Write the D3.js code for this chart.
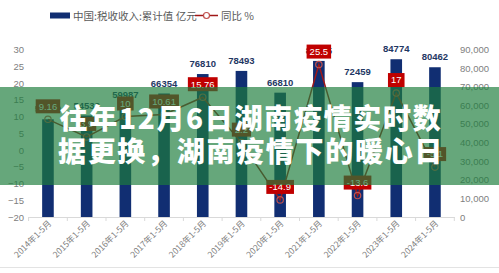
<!DOCTYPE html>
<html><head><meta charset="utf-8">
<script src="https://cdn.jsdelivr.net/npm/d3@7/dist/d3.min.js"></script>
<style>
html,body{margin:0;padding:0;background:#fff;}
svg{display:block;}
</style></head>
<body>
<script>
const categories = ["2014年1-5月","2015年1-5月","2016年1-5月","2017年1-5月","2018年1-5月","2019年1-5月","2020年1-5月","2021年1-5月","2022年1-5月","2023年1-5月","2024年1-5月"];
const taxValues = [52490, 54533, 59987, 66354, 76810, 78493, 66810, 83865, 72459, 84774, 80462];
const yoyValues = [9.16, 3.9, 10, 10.61, 15.76, 2.2, -14.9, 25.5, -13.6, 17, -5.1];
const yoyLabels = ["9.16","3.9","10","10.61","15.76","2.2","-14.9","25.5","-13.6","17","-5.1"];
const leftTicks = [-20,-15,-10,-5,0,5,10,15,20,25,30];
const rightTicks = [0,10000,20000,30000,40000,50000,60000,70000,80000,90000];
const legendBar = "中国:税收收入:累计值 亿元";
const legendLine = "同比 %";
const titleLines = ["往年12月6日湖南疫情实时数","据更换，湖南疫情下的暖心日"];

const W = 499, H = 273;
const svg = d3.select("body").append("svg").attr("width", W).attr("height", H);

const x = d3.scaleBand().domain(categories).range([28.6, 454.3]).paddingInner(0.7).paddingOuter(0.35);
const yL = d3.scaleLinear().domain([-20, 30]).range([217, 49.5]);
const yR = d3.scaleLinear().domain([0, 90000]).range([217, 49.5]);

const grey = "#808080";
const navy = "#112E72";
const red = "#C00000";

// left axis
const axL = d3.axisLeft(yL).tickValues(leftTicks).tickSize(0).tickPadding(0);
const gL = svg.append("g").attr("transform", "translate(24,0)").call(axL);
gL.select(".domain").remove();
gL.selectAll("text").attr("fill", grey).style("font-family", "Liberation Sans, Arial, sans-serif").style("font-size", "9.5px");

// right axis
const axR = d3.axisRight(yR).tickValues(rightTicks).tickSize(0).tickPadding(0);
const gR = svg.append("g").attr("transform", "translate(460,0)").call(axR);
gR.select(".domain").remove();
gR.selectAll("text").attr("fill", grey).style("font-family", "Liberation Sans, Arial, sans-serif").style("font-size", "9.5px");

// x axis
const axX = d3.axisBottom(x).tickSize(0).tickFormat("");
const gX = svg.append("g").attr("transform", "translate(0,217)").call(axX);
gX.select(".domain").attr("stroke", "#d9d9d9");
const step = x.step();
gX.selectAll(".bnd").data(d3.range(categories.length + 1)).enter().append("line")
  .attr("x1", i => 28.6 + i * step).attr("x2", i => 28.6 + i * step)
  .attr("y1", 0).attr("y2", 4).attr("stroke", "#d9d9d9");
svg.append("g").selectAll("text").data(categories).enter().append("text")
  .attr("transform", d => `translate(${x(d) + x.bandwidth() / 2 + 4},${224}) rotate(-45)`)
  .attr("text-anchor", "end")
  .attr("fill", grey)
  .style("font-family", "Noto Sans CJK SC, sans-serif").style("font-size", "8.5px")
  .text(d => d);

// bars
svg.append("g").selectAll("rect").data(categories).enter().append("rect")
  .attr("x", d => x(d)).attr("width", x.bandwidth())
  .attr("y", (d, i) => yR(taxValues[i])).attr("height", (d, i) => yR(0) - yR(taxValues[i]))
  .attr("fill", navy);

// bar labels
svg.append("g").selectAll("text").data(categories).enter().append("text")
  .attr("x", d => x(d) + x.bandwidth() / 2).attr("y", (d, i) => yR(taxValues[i]) - 7)
  .attr("text-anchor", "middle").attr("fill", "#1F3864").attr("font-weight", "bold")
  .style("font-family", "Liberation Sans Narrow, Arial Narrow, Liberation Sans, sans-serif").style("font-size", "9.5px")
  .text((d, i) => taxValues[i]);

// line
const line = d3.line().x((d, i) => x(categories[i]) + x.bandwidth() / 2).y(d => yL(d));
svg.append("path").datum(yoyValues).attr("d", line).attr("fill", "none").attr("stroke", "#A01818").attr("stroke-width", 1.5);
svg.append("g").selectAll("circle").data(yoyValues).enter().append("circle")
  .attr("cx", (d, i) => x(categories[i]) + x.bandwidth() / 2).attr("cy", d => yL(d)).attr("r", 3.2)
  .attr("fill", "none").attr("stroke", "#C0504D").attr("stroke-width", 1.2);

// red label boxes
const lab = svg.append("g").selectAll("g").data(yoyValues).enter().append("g")
  .attr("transform", (d, i) => `translate(${x(categories[i]) + x.bandwidth() / 2},${yL(d) - 13})`);
lab.append("text").attr("class", "lt")
  .attr("text-anchor", "middle").attr("dy", "0.35em").attr("fill", "#fff")
  .style("font-family", "Liberation Sans Narrow, Arial Narrow, Liberation Sans, sans-serif").style("font-size", "9.5px")
  .text((d, i) => yoyLabels[i]);
lab.each(function () {
  const g = d3.select(this);
  const bb = g.select("text").node().getBBox();
  g.insert("rect", "text").attr("x", bb.x - 3).attr("y", -7).attr("width", bb.width + 6).attr("height", 14).attr("fill", red);
});

// legend
svg.append("rect").attr("x", 50).attr("y", 12.5).attr("width", 20).attr("height", 6).attr("fill", navy);
svg.append("text").attr("x", 73).attr("y", 19.5).attr("fill", "#595959")
  .style("font-family", "Noto Sans CJK SC, sans-serif").style("font-size", "10.5px").text(legendBar);
svg.append("line").attr("x1", 195).attr("x2", 218).attr("y1", 15.5).attr("y2", 15.5).attr("stroke", "#A01818").attr("stroke-width", 1.5);
svg.append("circle").attr("cx", 206.5).attr("cy", 15.5).attr("r", 3).attr("fill", "#fff").attr("stroke", "#C0504D").attr("stroke-width", 1.2);
svg.append("text").attr("x", 221).attr("y", 19.5).attr("fill", "#595959")
  .style("font-family", "Noto Sans CJK SC, sans-serif").style("font-size", "10.5px").text(legendLine);

// bottom frame line
svg.append("line").attr("x1", 0).attr("x2", W).attr("y1", 267.5).attr("y2", 267.5).attr("stroke", "#e3e3e3");

// overlay band
svg.append("rect").attr("x", 0).attr("y", 87).attr("width", W).attr("height", 98).attr("fill", "rgba(30,125,60,0.68)");

// title
svg.append("g").selectAll("text").data(titleLines).enter().append("text")
  .attr("x", 251).attr("y", (d, i) => 128.5 + i * 33)
  .attr("text-anchor", "middle").attr("fill", "#fff").attr("font-weight", "900")
  .style("font-family", "Noto Sans CJK SC, sans-serif").style("font-size", "28px").style("letter-spacing", "1.7px")
  .text(d => d);
</script>
</body></html>
